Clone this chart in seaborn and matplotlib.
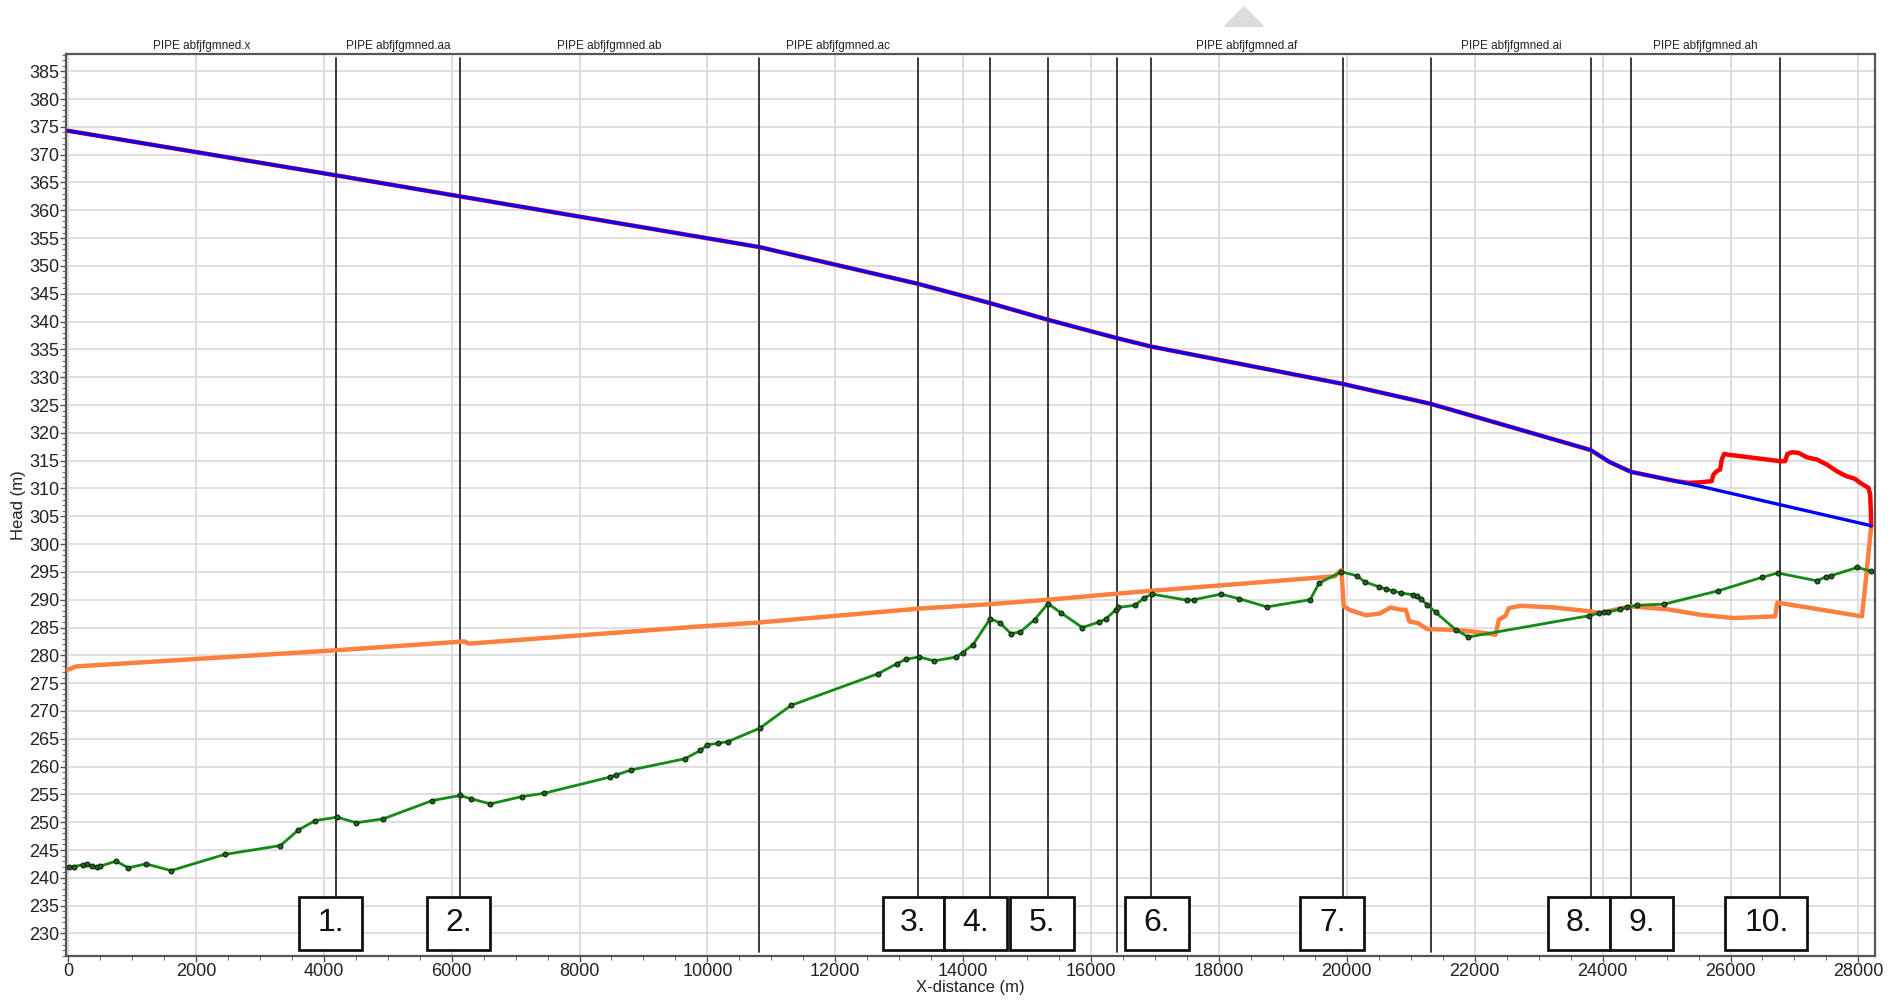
import numpy as np
import pandas as pd
import matplotlib
matplotlib.use("Agg")
import matplotlib.pyplot as plt
from matplotlib.patches import Rectangle, Polygon
from matplotlib.ticker import MultipleLocator
import seaborn as sns

# ---------------- data ----------------
# steady-state hydraulic grade line (blue)
blue_x = [0, 4184, 6133, 10809, 13288, 14425, 15333, 16412, 16942, 19933,
          21315, 23814, 24100, 24439, 25523, 26767, 28200]
blue_y = [374.3, 366.3, 362.5, 353.4, 346.8, 343.3, 340.3, 337.0, 335.5, 328.8,
          325.2, 316.9, 314.8, 313.0, 310.4, 307.1, 303.3]

# maximum transient head envelope (red)
red_x = [0, 4184, 6133, 10809, 13288, 14425, 15333, 16412, 16942, 19933,
         21315, 23814, 24100, 24439, 25150, 25350, 25523, 25706, 25733, 25785, 25837,
         25863, 25900, 25946, 26776, 26854, 26890, 26958, 27063, 27193, 27350,
         27506, 27663, 27793, 27950, 28028, 28158, 28184, 28196, 28200]
red_y = [374.3, 366.3, 362.5, 353.4, 346.8, 343.3, 340.3, 337.0, 335.5, 328.8,
         325.2, 316.9, 314.8, 313.0, 311.3, 311.0, 311.1, 311.3, 312.5, 313.1, 313.4,
         315.2, 316.2, 316.1, 314.9, 314.9, 316.2, 316.5, 316.4, 315.6, 315.2,
         314.3, 313.1, 312.3, 311.7, 311.0, 310.1, 308.9, 305.3, 303.3]

# minimum transient head envelope (orange)
orange_x = [0, 126, 4184, 6200, 6270, 9890, 10809, 13313, 14424, 15325, 16422,
            16953, 19811, 19895, 19916, 19950, 20055, 20300, 20510, 20685, 20846,
            20920, 20978, 21108, 21260, 21625, 22040, 22326, 22378, 22481, 22534,
            22715, 23235, 23806, 23962, 24430, 25002, 25523, 26044, 26697, 26733,
            26776, 28054, 28106, 28158, 28195, 28200]
orange_y = [277.4, 278.0, 280.9, 282.5, 282.1, 285.2, 285.9, 288.4, 289.2, 290.0, 291.1,
            291.6, 294.2, 295.2, 295.3, 288.8, 288.1, 287.2, 287.5, 288.6, 288.2,
            288.2, 286.1, 285.8, 284.7, 284.6, 284.2, 283.7, 286.4, 287.1, 288.5,
            288.9, 288.6, 287.9, 287.6, 288.8, 288.3, 287.3, 286.7, 287.0, 289.5,
            289.4, 287.0, 292.4, 298.4, 302.6, 303.3]

# pipeline ground profile (green)
green_x = [19, 89, 228, 298, 368, 459, 508, 752, 941, 1220, 1612, 2450, 3323, 3603,
           3869, 4210, 4510, 4930, 5700, 6131, 6307, 6607, 7095, 7445, 8473, 8576,
           8808, 9647, 9890, 10000, 10170, 10323, 10819, 11308, 12670, 12964, 13104,
           13313, 13544, 13893, 13991, 14152, 14424, 14578, 14746, 14893, 15116,
           15325, 15535, 15863, 16129, 16226, 16387, 16422, 16688, 16827, 16953,
           17505, 17610, 18029, 18308, 18749, 19426, 19566, 19916, 20160, 20279,
           20510, 20615, 20720, 20846, 21027, 21094, 21156, 21260, 21391, 21703,
           21900, 23781, 23947, 24025, 24077, 24274, 24378, 24545, 24961, 25810,
           26487, 26737, 27350, 27490, 27568, 27985, 28200]
green_y = [241.9, 242.0, 242.35, 242.4, 242.2, 242.0, 242.1, 243.0, 241.8, 242.5,
           241.3, 244.2, 245.8, 248.6, 250.3, 250.9, 249.9, 250.6, 253.9, 254.8,
           254.2, 253.3, 254.6, 255.2, 258.1, 258.5, 259.4, 261.4, 262.9, 263.9,
           264.2, 264.5, 266.9, 271.0, 276.7, 278.5, 279.3, 279.7, 279.0, 279.7,
           280.5, 281.9, 286.6, 285.8, 283.9, 284.2, 286.4, 289.3, 287.6, 285.0,
           286.0, 286.5, 288.2, 288.6, 289.0, 290.3, 291.0, 289.9, 290.0, 291.0,
           290.2, 288.7, 290.0, 293.0, 295.0, 294.3, 293.2, 292.3, 291.9, 291.6,
           291.2, 290.9, 290.7, 290.1, 289.1, 287.7, 284.6, 283.3, 287.1, 287.6,
           287.7, 287.8, 288.3, 288.65, 289.0, 289.2, 291.6, 294.0, 294.8, 293.4,
           294.1, 294.3, 295.8, 295.1]

# pipe boundaries (vertical lines)
pipe_bounds = [4184, 6133, 10809, 13288, 14425, 15333, 16412, 16942, 19933,
               21315, 23814, 24439, 26767]

# pipe names written above the chart (segment start / end)
pipe_names = ["PIPE abfjfgmned.x", "PIPE abfjfgmned.aa", "PIPE abfjfgmned.ab",
              "PIPE abfjfgmned.ac", "PIPE abfjfgmned.af", "PIPE abfjfgmned.ai",
              "PIPE abfjfgmned.ah"]
pipe_start = [0, 4184, 6133, 10809, 16942, 21315, 24439]
pipe_end = [4184, 6133, 10809, 13288, 19933, 23814, 26767]

# numbered boxes
box_labels = ["1.", "2.", "3.", "4.", "5.", "6.", "7.", "8.", "9.", "10."]
box_left = [3616, 5622, 12740, 13705, 14728, 16526, 19271, 23151, 24117, 25915]
box_right = [4600, 6607, 13705, 14690, 15731, 17529, 20274, 24117, 25101, 27203]
box_bottom_val = 227.0
box_top_val = 236.6

y_ticks = list(range(230, 386, 5))
x_ticks = list(range(0, 28001, 2000))

# ---------------- style ----------------
sns.set_style("white")
narrow = ["Liberation Sans Narrow", "Liberation Sans", "DejaVu Sans"]
plt.rcParams["font.family"] = narrow

fig = plt.figure(figsize=(18.98, 10.0), dpi=100)
ax = fig.add_axes([0.0348, 0.0443, 0.9531, 0.9017])

ax.set_xlim(-30, 28260)
ax.set_ylim(226.0, 388.1)

ax.xaxis.set_major_locator(MultipleLocator(2000))
ax.xaxis.set_minor_locator(MultipleLocator(500))
ax.yaxis.set_major_locator(MultipleLocator(5))
ax.yaxis.set_minor_locator(MultipleLocator(1))
ax.set_yticks(y_ticks)
ax.set_xticks(x_ticks)
ax.grid(True, which="major", color="#d9d9d9", lw=1.2, zorder=0)
ax.set_axisbelow(True)

for s in ax.spines.values():
    s.set_color("#555555")
    s.set_linewidth(1.6)

ax.tick_params(axis="both", which="major", direction="out", length=4, width=1,
               color="#555555", labelsize=13, labelcolor="#222222", pad=1,
               left=True, bottom=True)
ax.tick_params(axis="both", which="minor", direction="out", length=3, width=0.8,
               color="#777777", left=True, bottom=True)

# vertical pipe boundary lines
for xb in pipe_bounds:
    has_box = any(l - 50 <= xb <= r + 50 for l, r in zip(box_left, box_right))
    y_end = box_top_val if has_box else 226.6
    ax.plot([xb, xb], [y_end, 387.3], color="#2b2b2b", lw=1.3, zorder=2)

# series
df_green = pd.DataFrame({"x": green_x, "y": green_y})
df_orange = pd.DataFrame({"x": orange_x, "y": orange_y})
df_red = pd.DataFrame({"x": red_x, "y": red_y})
df_blue = pd.DataFrame({"x": blue_x, "y": blue_y})

sns.lineplot(data=df_orange, x="x", y="y", sort=False, estimator=None, ax=ax,
             color="#ff7f3f", lw=3.2, zorder=3)
sns.lineplot(data=df_red, x="x", y="y", sort=False, estimator=None, ax=ax,
             color="#ff0000", lw=3.2, zorder=4)
sns.lineplot(data=df_blue, x="x", y="y", sort=False, estimator=None, ax=ax,
             color="#0000ff", lw=2.4, zorder=5)
sns.lineplot(data=df_green, x="x", y="y", sort=False, estimator=None, ax=ax,
             color="#138a13", lw=2.0, zorder=6, marker="o", markersize=3.5,
             markerfacecolor="#1a6b1a", markeredgecolor="#102010",
             markeredgewidth=0.8)

# numbered boxes
for lab, l, r in zip(box_labels, box_left, box_right):
    ax.add_patch(Rectangle((l, box_bottom_val), r - l, box_top_val - box_bottom_val,
                           facecolor="white", edgecolor="#111111", lw=2.0, zorder=7))
    ax.text((l + r) / 2, (box_bottom_val + box_top_val) / 2, lab, ha="center",
            va="center", fontsize=23, color="#111111", zorder=8, family=narrow)

# pipe names above the plot
for name, s, e in zip(pipe_names, pipe_start, pipe_end):
    ax.text((s + e) / 2, 388.5, name, ha="center", va="bottom", fontsize=8.5,
            color="#222222", family=narrow, clip_on=False)

ax.set_xlabel("X-distance (m)", fontsize=12, color="#222222", labelpad=0)
ax.set_ylabel("Head (m)", fontsize=12, color="#222222")
ax.yaxis.set_label_coords(-0.0221, 0.5)

# grey triangle decoration at the top
fig.patches.append(Polygon([[1223 / 1898, 1 - 27 / 1000], [1265 / 1898, 1 - 27 / 1000],
                            [1244 / 1898, 1 - 6 / 1000]], closed=True,
                           transform=fig.transFigure, facecolor="#dcdcdc",
                           edgecolor="none"))

fig.savefig("out.png", dpi=100, facecolor="white")
